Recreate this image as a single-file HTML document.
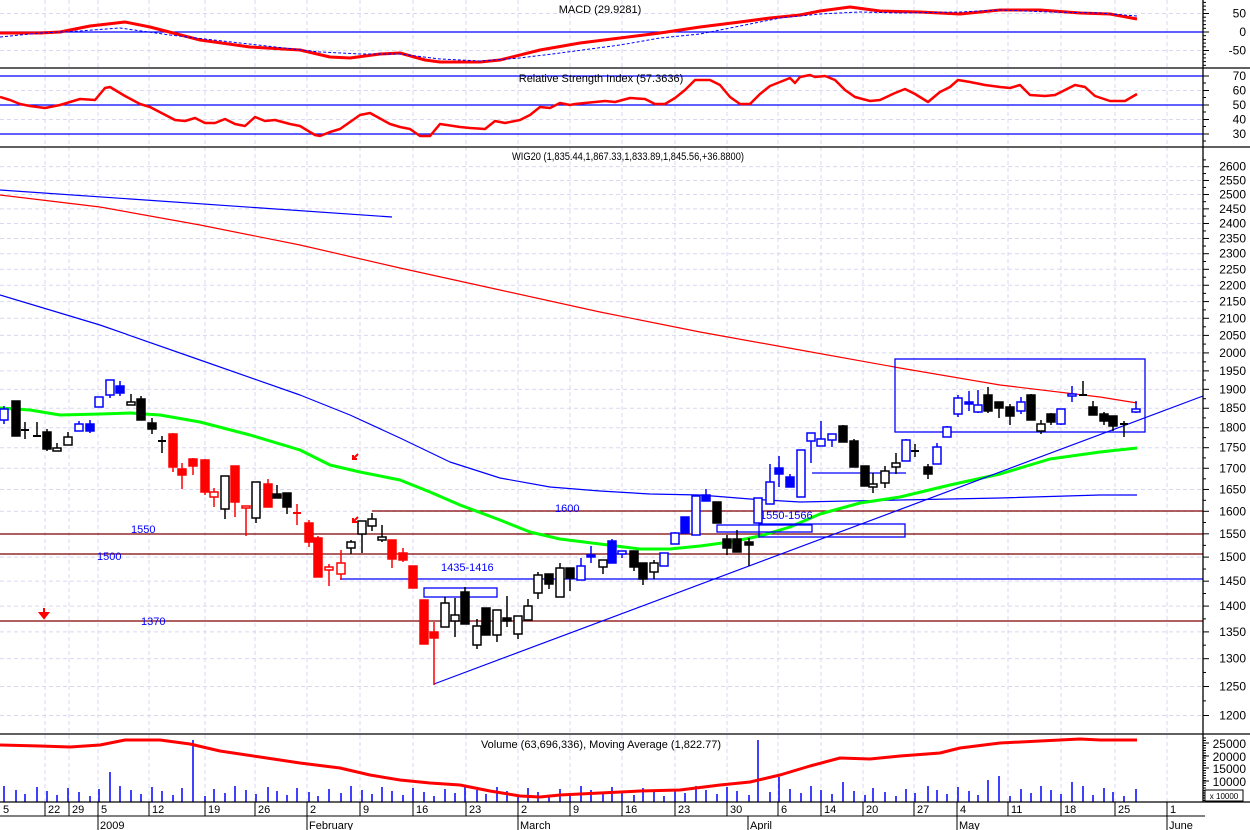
<!DOCTYPE html>
<html><head><meta charset="utf-8"><style>
body{margin:0;background:#fff}
svg{display:block;font-family:"Liberation Sans",sans-serif}
</style></head><body>
<svg id="s" width="1250" height="830" xmlns="http://www.w3.org/2000/svg"></svg>
<script>
var S=document.getElementById('s'),h='';
function L(x1,y1,x2,y2,c,w,extra){h+='<line x1="'+x1+'" y1="'+y1+'" x2="'+x2+'" y2="'+y2+'" stroke="'+c+'" stroke-width="'+(w||1)+'" '+(extra||'')+'/>';}
function P(pts,c,w,extra){h+='<polyline fill="none" points="'+pts.map(function(p){return p.join(',')}).join(' ')+'" stroke="'+c+'" stroke-width="'+w+'" stroke-linejoin="round" '+(extra||'')+'/>';}
function T(x,y,t,s,c,a,ex){h+='<text x="'+x+'" y="'+y+'" font-size="'+(s||11)+'" fill="'+(c||'#000')+'" text-anchor="'+(a||'start')+'" '+(ex||'')+'>'+t+'</text>';}
function R(x,y,w,hh,c,f,sw){h+='<rect x="'+x+'" y="'+y+'" width="'+w+'" height="'+hh+'" stroke="'+c+'" fill="'+(f||'none')+'" stroke-width="'+(sw||1.5)+'"/>';}
var G='#d8d8f0';
var gx=[45,69,98,149,205,255,307,360,413,466,518,570,622,675,727,778,821,863,914,957,1008,1061,1115,1167];
gx.forEach(function(x){L(x,0,x,802,G,1,'stroke-dasharray="4,3"');});
function py(p){return 511.3-709.8*Math.log(p/1600);}
for(var p=1200;p<=2600;p+=50){var y=py(p);L(0,y,1203,y,G,1,'stroke-dasharray="4,3"');L(1203,y,1209,y,'#000');T(1246,y+4,p,12,'#000','end');L(1203,py(p+25),1206,py(p+25),'#000');}
[40,60].forEach(function(v){var y=105-(v-50)*1.45;L(0,y,1203,y,G,1,'stroke-dasharray="4,3"');});
[50,-50].forEach(function(v){var y=32-v*0.37;L(0,y,1203,y,G,1,'stroke-dasharray="4,3"');});
L(0,32,1203,32,'#00f',1.2);
[[50,'50'],[0,'0'],[-50,'-50']].forEach(function(a){var y=32-a[0]*0.37;L(1203,y,1209,y,'#000');T(1246,y+4,a[1],12,'#000','end');});
for(var v=-90;v<=90;v+=10){L(1203,32-v*0.37,1206,32-v*0.37,'#000');}
P([[0,33],[40,33],[60,32],[90,26],[125,22],[150,27],[200,40],[250,47],[300,50],[330,57],[350,58],[380,54],[400,53],[425,60],[440,62],[480,62],[500,60],[540,50],[580,43],[620,38],[660,33],[700,27],[740,22],[770,18],[800,15],[820,11],[850,7],[880,11],[920,12],[960,14],[1000,10],[1040,10],[1080,13],[1110,14],[1137,19]],'#f00',3);
P([[0,37],[40,33],[80,31],[120,28],[170,35],[240,43],[320,52],[360,54],[400,54],[440,59],[480,61],[520,58],[560,53],[620,45],[660,38],[700,34],[740,26],[780,18],[820,14],[860,12],[900,13],[960,12],[1000,10],[1050,12],[1100,13],[1137,16]],'#00f',1,'stroke-dasharray="3,2"');
T(600,13,'MACD (29.9281)',11,'#000','middle');
[70,50,30].forEach(function(v){var y=105-(v-50)*1.45;L(0,y,1203,y,'#00f',1.2);});
[70,60,50,40,30].forEach(function(v){var y=105-(v-50)*1.45;L(1203,y,1209,y,'#000');T(1246,y+4,v,12,'#000','end');L(1203,y+7,1206,y+7,'#000');});
P([[0,97],[10,100],[20,104],[30,106],[45,108],[60,105],[80,99],[95,100],[105,88],[110,87],[125,96],[140,104],[150,107],[175,120],[185,121],[195,118],[205,123],[215,123],[225,119],[235,124],[245,126],[255,117],[265,121],[275,120],[290,124],[300,126],[315,135],[320,136],[330,132],[340,129],[360,115],[370,113],[390,124],[400,127],[410,129],[420,136],[430,136],[440,124],[460,127],[470,128],[485,129],[495,121],[505,123],[520,120],[530,115],[540,107],[550,108],[560,103],[570,105],[575,104],[595,102],[605,101],[615,102],[630,98],[645,99],[655,104],[665,104],[675,98],[685,90],[695,80],[710,80],[720,85],[730,97],[740,104],[750,104],[760,94],[770,86],[780,82],[790,78],[795,83],[800,77],[810,75],[815,77],[825,76],[835,80],[845,90],[855,97],[870,101],[880,100],[895,93],[905,89],[915,94],[928,102],[940,92],[950,87],[958,80],[970,82],[985,85],[1000,87],[1010,88],[1020,85],[1030,95],[1045,96],[1055,95],[1065,90],[1075,85],[1085,87],[1095,96],[1110,101],[1125,101],[1137,94]],'#f00',2.5);
T(601,82,'Relative Strength Index (57.3636)',11,'#000','middle');
T(512,160,'WIG20 (1,835.44,1,867.33,1,833.89,1,845.56,+36.8800)',11,'#000','start','textLength="232" lengthAdjust="spacingAndGlyphs"');
L(0,621,1203,621,'#800000',1.3);L(0,554,1203,554,'#800000',1.3);L(0,534,1203,534,'#800000',1.3);L(372,511,1203,511,'#800000',1.3);
L(340,579,1203,579,'#00f',1.2);
P([[0,195],[100,207],[200,225],[300,245],[400,268],[500,290],[600,312],[700,332],[800,350],[900,368],[1000,385],[1100,397],[1137,403]],'#f00',1.2);
L(0,190,392,217,'#00f',1.2);
P([[0,295],[100,325],[200,360],[300,395],[350,415],[400,438],[450,462],[500,478],[550,487],[600,491],[650,494],[700,495],[750,499],[800,502],[900,500],[1000,498],[1100,495],[1137,495]],'#00f',1.2);
P([[0,408],[30,410],[60,415],[100,414],[130,413],[160,415],[200,422],[250,435],[300,450],[330,465],[360,472],[400,480],[430,492],[460,505],[500,520],[530,532],[560,539],[600,544],[640,549],[670,549],[700,546],[730,542],[760,536],[790,527],[820,514],[860,503],[900,497],[950,485],[1000,474],[1050,459],[1100,452],[1137,448]],'#0f0',3);
L(434,684,1203,396,'#00f',1.2);
R(895,359,250,73,'#00f','none',1.3);R(424,588,73,9,'#00f','none',1.3);R(717,525,95,7,'#00f','none',1.3);R(759,524,146,13,'#00f','none',1.3);
L(812,473,906,473,'#00f',1.3);
T(131,533,'1550',11,'#00f');T(97,560,'1500',11,'#00f');T(141,625,'1370',11,'#00f');T(555,512,'1600',11,'#00f');T(441,571,'1435-1416',11,'#00f');T(760,519,'1550-1566',11,'#00f');
function da(x,y){h+='<path d="M'+(x+5)+','+(y-5)+' L'+(x)+','+y+' M'+x+','+(y-4)+' L'+x+','+y+' L'+(x+4)+','+y+'" stroke="#f00" stroke-width="2" fill="none"/>';}
da(353,459);da(353,522);
h+='<path d="M44,608 L44,614 M40,613 L44,618 L48,613 Z" stroke="#f00" stroke-width="2" fill="#f00"/>';
var C=[[4,409,420,406,424,'bw'],[16,401,436,401,436,'k'],[25,430,430,422,439,'x'],[37,436,436,422,436,'x'],[47,432,449,429,451,'k'],[57,448,451,443,451,'w'],[68,437,445,432,445,'w'],[79,424,431,421,431,'bw'],[90,424,431,420,433,'b'],[99,397,407,397,407,'bw'],[110,380,395,380,398,'bw'],[120,386,393,381,396,'b'],[131,402,405,394,405,'w'],[141,399,420,396,420,'k'],[152,423,429,418,434,'k'],[162,441,441,436,453,'x'],[173,434,467,433,472,'r'],[182,469,475,463,489,'r'],[193,459,466,458,475,'r'],[205,460,492,459,495,'r'],[214,492,497,488,507,'rw'],[225,476,509,476,519,'w'],[235,466,502,466,517,'r'],[246,506,508,506,536,'rw'],[256,482,518,482,523,'w'],[268,484,507,479,507,'r'],[277,494,498,485,498,'k'],[287,493,507,493,514,'k'],[297,513,513,504,525,'rx'],[309,523,542,520,547,'r'],[318,538,577,536,577,'r'],[329,567,570,564,586,'rw'],[341,563,574,550,580,'rw'],[351,542,548,540,554,'w'],[362,521,534,521,553,'w'],[372,519,526,513,531,'w'],[382,537,540,525,542,'w'],[392,540,559,540,568,'r'],[403,553,560,548,562,'r'],[413,566,588,566,588,'r'],
[424,600,644,600,644,'r'],[434,632,638,622,685,'r'],[445,603,627,597,627,'w'],[455,615,621,598,637,'w'],[465,592,624,587,624,'k'],[477,626,645,619,649,'w'],[486,608,635,608,635,'k'],[497,610,635,610,642,'w'],[507,618,621,596,627,'k'],[518,616,634,616,639,'w'],[528,606,620,599,620,'w'],[538,575,593,572,599,'w'],[549,574,584,574,589,'k'],[560,568,597,563,597,'w'],[570,568,578,568,591,'k'],[581,566,580,558,580,'bw'],[591,555,557,546,563,'b'],[603,560,567,560,574,'w'],[612,541,563,539,563,'b'],[622,551,554,551,558,'bw'],[634,551,567,551,571,'k'],[643,563,579,563,585,'k'],[654,563,572,560,579,'w'],[664,553,566,553,566,'bw'],[675,533,544,532,544,'bw'],[685,517,533,517,533,'b'],[696,496,535,496,535,'bw'],[706,495,501,489,501,'b'],[717,502,523,502,523,'k'],[727,539,548,535,555,'k'],[737,539,552,530,552,'k'],[749,542,545,538,566,'k'],
[758,498,523,498,523,'bw'],[770,482,504,464,504,'bw'],[779,468,474,456,487,'b'],[790,477,487,474,487,'b'],[801,450,497,450,497,'bw'],[811,433,441,433,463,'bw'],[821,439,446,421,446,'bw'],[832,434,440,434,447,'bw'],[843,426,442,425,442,'k'],[854,441,467,439,467,'k'],[865,466,486,466,486,'k'],[873,484,487,473,493,'w'],[885,471,483,466,488,'w'],[896,463,467,453,474,'w'],[906,440,461,439,461,'bw'],[915,451,451,444,457,'x'],[928,467,474,464,479,'k'],[937,447,464,443,464,'bw'],[947,427,437,426,437,'bw'],[958,398,414,395,417,'bw'],[969,402,404,391,411,'b'],[978,405,412,390,413,'bw'],[988,395,411,387,413,'k'],[999,402,408,402,418,'k'],[1010,407,416,404,425,'k'],[1021,402,411,397,414,'bw'],[1031,395,420,394,420,'k'],[1041,424,431,420,434,'w'],[1051,414,422,413,425,'k'],[1061,409,424,409,425,'bw'],[1072,394,396,386,402,'bw'],[1083,395,395,381,395,'x'],[1093,407,415,401,415,'k'],[1104,414,421,412,425,'k'],[1113,416,426,416,431,'k'],[1124,424,424,421,437,'x'],[1136,409,412,401,413,'bw']];
C.forEach(function(c){var x=c[0],t=c[5],col=(t[0]=='r')?'#f00':(t[0]=='b')?'#00f':'#000';
 L(x,c[3],x,c[4],col,1.5);
 if(t=='x'||t=='rx'){L(x-4,c[1],x+4,c[1],col,2);return;}
 var hollow=(t=='w'||t=='rw'||t=='bw');
 R(x-4,c[1],8,Math.max(c[2]-c[1],2),col,hollow?'#fff':col,1.5);});
L(0,68,1250,68,'#000',1.3);L(0,147,1250,147,'#000',1.3);L(0,734,1250,734,'#000',1.3);
L(1203,0,1203,802,'#000',1.3);
var vx=C.map(function(c){return c[0];});
var spikes={110:772,122:785,193:740,365:782,419:777,758:740,769:760,779:777,831:770,843:782,977:749,988:780,999:776,1072:782,1083:786,530:787,850:788};
vx.forEach(function(x,i){var y=spikes[x]||(786+((i*37)%11));L(x,802,x,y,'#00f',1.5);});
P([[0,745],[40,746],[70,747],[100,745],[125,740],[160,740],[190,744],[220,751],[260,757],[300,763],[340,768],[370,775],[400,780],[430,783],[460,785],[490,791],[520,796],[540,797],[560,795],[600,793],[640,791],[680,790],[720,785],[750,782],[780,775],[810,766],[840,758],[870,759],[900,756],[940,753],[960,748],[1000,743],[1040,741],[1080,739],[1100,740],[1137,740]],'#f00',3);
T(601,748,'Volume (63,696,336), Moving Average (1,822.77)',11,'#000','middle');
[[25000,743],[20000,756],[15000,768],[10000,781]].forEach(function(a){L(1203,a[1],1209,a[1],'#000');T(1246,a[1]+5,a[0],12,'#000','end');});
for(var y=738;y<802;y+=2.5)L(1203,y,1206,y,'#000');
R(1205,790,38,11,'#000','#fff',1);T(1224,799,'x 10000',8,'#000','middle');
L(0,802,1250,802,'#000',1.3);L(0,816,1205,816,'#000',1);
var dl=[[0,'5'],[45,'22'],[69,'29'],[98,'5'],[149,'12'],[205,'19'],[255,'26'],[307,'2'],[360,'9'],[413,'16'],[466,'23'],[518,'2'],[570,'9'],[622,'16'],[675,'23'],[727,'30'],[778,'6'],[821,'14'],[863,'20'],[914,'27'],[957,'4'],[1008,'11'],[1061,'18'],[1115,'25'],[1167,'1']];
dl.forEach(function(d){if(d[0]>0)L(d[0],802,d[0],816,'#000');T(d[0]+3,813,d[1],11);});
[[98,'2009'],[307,'February'],[518,'March'],[748,'April'],[957,'May'],[1167,'June']].forEach(function(m){L(m[0],816,m[0],830,'#000');T(m[0]+2,829,m[1],11);});
S.innerHTML=h;
</script>
</body></html>
